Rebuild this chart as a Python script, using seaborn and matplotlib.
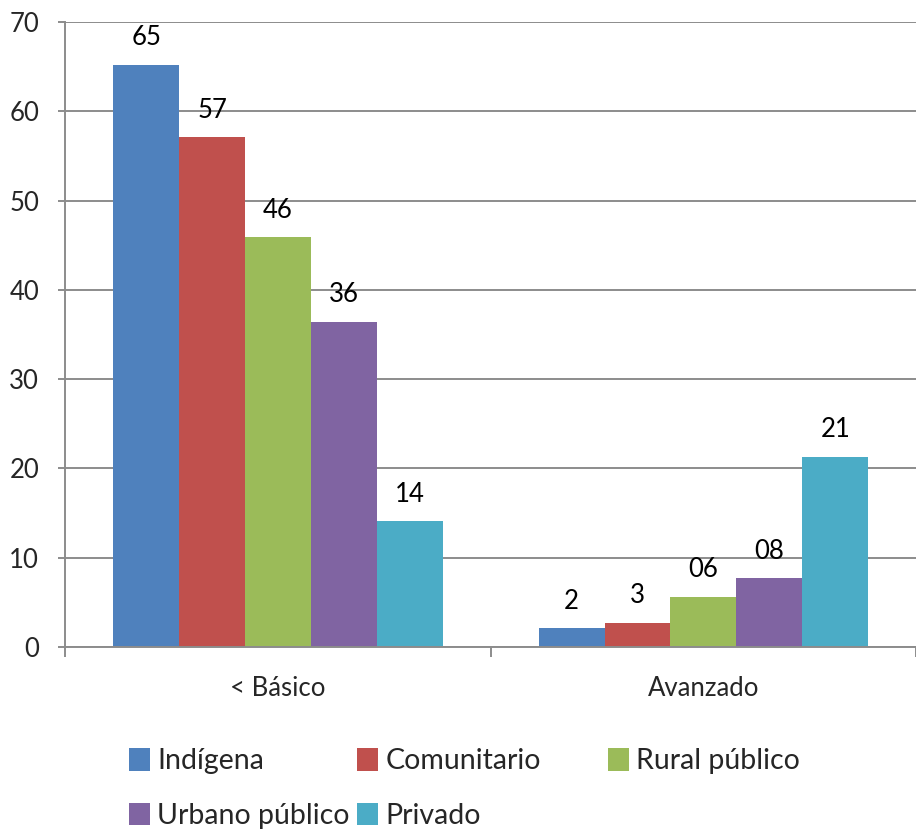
import numpy as np
import pandas as pd
import matplotlib
matplotlib.use("Agg")
import matplotlib.pyplot as plt
import seaborn as sns
from matplotlib.patches import Patch

# ── Data ───────────────────────────────────────────────────────────────────────
categories = ["< Básico", "Avanzado"]
series = ["Indígena", "Comunitario", "Rural público", "Urbano público", "Privado"]
basico = [65.2, 57.1, 45.9, 36.4, 14.1]
avanzado = [2.1, 2.7, 5.6, 7.7, 21.3]
labels_basico = ["65", "57", "46", "36", "14"]
labels_avanzado = ["2", "3", "06", "08", "21"]
colors = ["#4F81BD", "#C0504D", "#9BBB59", "#8064A2", "#4BACC6"]

df = pd.DataFrame({
    "nivel": [categories[0]] * 5 + [categories[1]] * 5,
    "tipo": series + series,
    "valor": basico + avanzado,
    "etiqueta": labels_basico + labels_avanzado,
})

sns.set_style("white")
plt.rcParams["font.family"] = ["Lato", "DejaVu Sans"]
FS = 18.5
FS_LEG = 20.5

fig = plt.figure(figsize=(9.16, 8.3), dpi=100)
ax = fig.add_axes([0.0715, 0.2205, 0.9285, 0.753])

sns.barplot(data=df, x="nivel", y="valor", hue="tipo", order=categories,
            hue_order=series, palette=colors, width=0.775, saturation=1,
            edgecolor="none", linewidth=0, legend=False, ax=ax)

# value labels
for cont, cat in zip(ax.containers, series):
    sub = df[df["tipo"] == cat].set_index("nivel").loc[categories]
    for bar, lab in zip(cont, sub["etiqueta"]):
        ax.annotate(lab, (bar.get_x() + bar.get_width() / 2, bar.get_height()),
                    xytext=(0, 19.5), textcoords="offset points",
                    ha="center", va="center", fontsize=FS, color="black")

grid_c = "#8c8c8c"
ax.set_ylim(0, 70)
ax.set_xlim(-0.5, 1.5)
ax.set_yticks(np.arange(0, 71, 10))
ax.yaxis.grid(True, color=grid_c, linewidth=1.4)
ax.set_axisbelow(True)
ax.set_xlabel("")
ax.set_ylabel("")

for s in ["top", "right"]:
    ax.spines[s].set_visible(False)
for s in ["left", "bottom"]:
    ax.spines[s].set_color(grid_c)
    ax.spines[s].set_linewidth(1.4)

ax.tick_params(axis="y", length=5, width=1.4, color=grid_c, pad=14,
               labelsize=FS, left=True)
ax.set_xticks([0, 1])
ax.set_xticklabels(categories)
ax.tick_params(axis="x", which="major", length=0, pad=21, labelsize=FS)
ax.set_xticks([-0.5, 0.5, 1.5], minor=True)
ax.tick_params(axis="x", which="minor", length=7, width=1.4, color=grid_c,
               bottom=True)

# legend: one entry per position, laid out like the original (two rows)
leg_x = [129, 357, 608, 129, 357]
leg_y = [0.083, 0.083, 0.083, 0.017, 0.017]
kw = dict(frameon=False, fontsize=FS_LEG, handlelength=0.75, handleheight=0.85,
          handletextpad=0.25, borderaxespad=0, borderpad=0)
for name, c, x, y in zip(series, colors, leg_x, leg_y):
    fig.legend([Patch(facecolor=c, edgecolor="none")], [name],
               loc="center left", bbox_to_anchor=(x / 916, y), **kw)

fig.savefig("out.png", dpi=100)
